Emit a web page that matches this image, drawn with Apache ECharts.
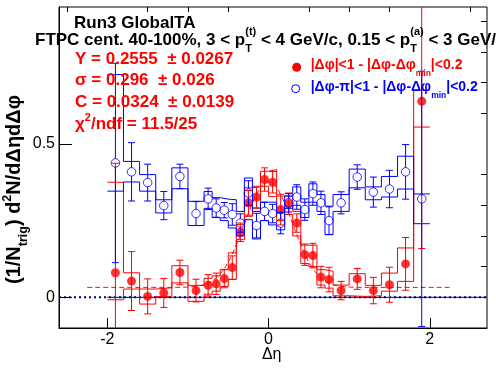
<!DOCTYPE html>
<html><head><meta charset="utf-8">
<script src="https://cdn.jsdelivr.net/npm/echarts@6/dist/echarts.min.js"></script>
<style>html,body{margin:0;padding:0;background:#fff}#c{width:496px;height:374px}</style>
</head><body><div id="c"></div>
<script>
// ---------------- data ----------------
const binEdges = [-2.0,-1.8,-1.6,-1.4,-1.2,-1.0,-0.8,-0.7,-0.6,-0.5,-0.4,-0.3,-0.2,-0.1,0.0,0.1,0.2,0.3,0.4,0.5,0.6,0.7,0.8,1.0,1.2,1.4,1.6,1.8,2.0];

// near side: |dphi|<1 - |dphi-dphi_min|<0.2  (red, filled)
const nearVals  = [0.080,0.053,0.003,0.014,0.081,0.022,0.039,0.044,0.061,0.097,0.212,0.308,0.327,0.384,0.375,0.286,0.305,0.242,0.139,0.136,0.066,0.058,0.022,0.060,0.022,0.041,0.109,0.639];
const nearErr   = [0.357,0.096,0.057,0.047,0.040,0.037,0.035,0.035,0.030,0.038,0.030,0.040,0.035,0.038,0.035,0.050,0.035,0.030,0.035,0.040,0.035,0.040,0.030,0.034,0.043,0.057,0.086,0.480];
const nearSysLo = [-0.008,0.027,-0.022,0.003,0.047,-0.013,0.010,0.020,0.035,0.058,0.188,0.264,0.290,0.362,0.329,0.250,0.270,0.200,0.110,0.100,0.040,0.030,0.005,0.003,0.005,0.020,0.052,0.555];
const nearSysHi = [0.375,0.080,0.027,0.031,0.103,0.039,0.062,0.070,0.090,0.145,0.237,0.357,0.360,0.411,0.416,0.330,0.330,0.280,0.170,0.170,0.090,0.085,0.040,0.077,0.039,0.079,0.161,0.675];

// away side: |dphi-pi|<1 - |dphi-dphi_min|<0.2  (blue, open)
const awayVals  = [0.438,0.409,0.374,0.299,0.394,0.273,0.321,0.291,0.284,0.270,0.242,0.340,0.234,0.280,0.273,0.242,0.308,0.327,0.286,0.338,0.308,0.250,0.308,0.392,0.343,0.353,0.409,0.321];
const awayErr   = [0.325,0.095,0.060,0.046,0.040,0.039,0.035,0.030,0.025,0.035,0.030,0.040,0.040,0.030,0.030,0.035,0.030,0.040,0.035,0.038,0.038,0.045,0.036,0.040,0.049,0.061,0.089,0.416];
const awaySysLo = [0.346,0.376,0.346,0.275,0.354,0.234,0.290,0.260,0.250,0.226,0.200,0.253,0.190,0.250,0.236,0.220,0.290,0.300,0.260,0.310,0.280,0.204,0.280,0.357,0.318,0.327,0.353,0.240];
const awaySysHi = [0.726,0.443,0.400,0.318,0.422,0.313,0.345,0.325,0.320,0.318,0.280,0.389,0.280,0.310,0.310,0.275,0.330,0.360,0.310,0.370,0.335,0.297,0.335,0.418,0.360,0.394,0.460,0.337];

// fit parameters (as printed on the chart)
const fitY = 0.2555, fitYErr = 0.0267;
const fitSigma = 0.296, fitSigmaErr = 0.026;
const fitC = 0.0324, fitCErr = 0.0139;
const fitChi2 = '11.5', fitNdf = '25';
const fitRange = [-2.25, 2.25];

// axes
const xRange = [-2.6, 2.71];
const yRange = [-0.1, 0.9463];
const xTickMajor = [-2, 0, 2];
const xTickMinor = [-2.5,-1.5,-1,-0.5,0.5,1,1.5,2.5];
const yTickMajor = [0, 0.5];
const yTickMinor = [-0.1,0.1,0.2,0.3,0.4,0.6,0.7,0.8,0.9];
const zeroSolidRange = [-2.0, 2.71];

// ---------------- helpers ----------------
const RED = '#ff0000', BLUE = '#0000ff', NAVY = '#000080';
const FONT = '"Liberation Sans", Arial, Helvetica, sans-serif';
const centers = binEdges.slice(0, -1).map((e, i) => (e + binEdges[i + 1]) / 2);

function stepLine(vals) {
  const d = [];
  vals.forEach((v, i) => { d.push([binEdges[i], v]); d.push([binEdges[i + 1], v]); });
  return d;
}
function fitFunc(x) {
  return fitC + fitY / (fitSigma * Math.sqrt(2 * Math.PI)) * Math.exp(-x * x / (2 * fitSigma * fitSigma));
}
const fitCurve = [];
for (let k = 0; k <= 450; k++) {
  const x = fitRange[0] + (fitRange[1] - fitRange[0]) * k / 450;
  fitCurve.push([x, fitFunc(x)]);
}

function errSeries(vals, errs, color, gap) {
  return {
    type: 'custom', clip: true, silent: true, z: 3,
    data: vals.map((v, i) => [centers[i], v, errs[i]]),
    renderItem: function (params, api) {
      const x = api.value(0), y = api.value(1), e = api.value(2);
      const c = api.coord([x, y]);
      const t = api.coord([x, y + e]);
      const b = api.coord([x, y - e]);
      const hw = 3.5;
      const st = { stroke: color, lineWidth: 1 };
      const ch = [];
      if (c[1] - gap > t[1]) ch.push({ type: 'line', shape: { x1: c[0], y1: t[1], x2: c[0], y2: c[1] - gap }, style: st });
      if (c[1] + gap < b[1]) ch.push({ type: 'line', shape: { x1: c[0], y1: c[1] + gap, x2: c[0], y2: b[1] }, style: st });
      ch.push({ type: 'line', shape: { x1: c[0] - hw, y1: t[1], x2: c[0] + hw, y2: t[1] }, style: st });
      ch.push({ type: 'line', shape: { x1: c[0] - hw, y1: b[1], x2: c[0] + hw, y2: b[1] }, style: st });
      return { type: 'group', children: ch };
    }
  };
}
function lineSeries(data, color, width, type, z) {
  return { type: 'line', data: data, symbol: 'none', silent: true, z: z || 2,
    lineStyle: { color: color, width: width, type: type || 'solid' }, animation: false };
}

// text layout
const mctx = document.createElement('canvas').getContext('2d');
function fontStr(size, bold) { return (bold ? 'bold ' : '') + size + 'px ' + FONT; }
function tw(t, size, bold) { mctx.font = fontStr(size, bold); return mctx.measureText(t).width; }
function textEl(t, x, baseline, size, bold, color) {
  return { type: 'text', x: x, y: baseline - 0.347 * size, silent: true, z: 100,
    style: { text: t, font: fontStr(size, bold), fill: color,
      align: 'left', verticalAlign: 'middle', textAlign: 'left', textVerticalAlign: 'middle' } };
}
function runs(x0, base, parts, o) {
  const els = []; let x = x0;
  for (const p of parts) {
    if (p.t !== undefined) { els.push(textEl(p.t, x, base, o.size, o.bold, o.color)); x += tw(p.t, o.size, o.bold); }
    else {
      let w = 0;
      if (p.sub) { els.push(textEl(p.sub, x, base + o.subDy, o.small, o.bold, o.color)); w = Math.max(w, tw(p.sub, o.small, o.bold)); }
      if (p.sup) { els.push(textEl(p.sup, x, base - o.supDy, o.small, o.bold, o.color)); w = Math.max(w, tw(p.sup, o.small, o.bold)); }
      x += w;
    }
  }
  return els;
}

const graphics = [];
graphics.push(...runs(74, 29, [{ t: 'Run3 GlobalTA' }], { size: 17, bold: true, color: '#000' }));
graphics.push(...runs(35, 46, [
  { t: 'FTPC cent. 40-100%, 3 < p' }, { sub: 'T', sup: '(t)' },
  { t: ' < 4 GeV/c, 0.15 < p' }, { sub: 'T', sup: '(a)' }, { t: ' < 3 GeV/c' }
], { size: 17, bold: true, color: '#000', small: 11, subDy: 7, supDy: 10 }));
const fitOpt = { size: 17, bold: true, color: RED, small: 11, subDy: 6, supDy: 8 };
graphics.push(...runs(75, 65, [{ t: 'Y = ' + fitY.toFixed(4) + '  ± ' + fitYErr.toFixed(4) }], fitOpt));
graphics.push(...runs(75, 86.7, [{ t: 'σ = ' + fitSigma.toFixed(3) + '  ± ' + fitSigmaErr.toFixed(3) }], fitOpt));
graphics.push(...runs(75, 108.3, [{ t: 'C = ' + fitC.toFixed(4) + '  ± ' + fitCErr.toFixed(4) }], fitOpt));
graphics.push(...runs(75, 130, [{ t: 'χ' }, { sup: '2' }, { t: '/ndf = ' + fitChi2 + '/' + fitNdf }], fitOpt));
// legend
graphics.push({ type: 'circle', shape: { cx: 296.7, cy: 67.3, r: 4.5 }, style: { fill: RED }, silent: true, z: 100 });
graphics.push({ type: 'circle', shape: { cx: 295.7, cy: 88.7, r: 4 }, style: { fill: 'none', stroke: BLUE, lineWidth: 1 }, silent: true, z: 100 });
graphics.push(...runs(310.7, 70, [{ t: '|Δφ|<1 - |Δφ-Δφ' }, { sub: 'min' }, { t: '|<0.2' }],
  { size: 14, bold: true, color: RED, small: 8.5, subDy: 6.6 }));
graphics.push(...runs(310.7, 91.7, [{ t: '|Δφ-π|<1 - |Δφ-Δφ' }, { sub: 'min' }, { t: '|<0.2' }],
  { size: 14, bold: true, color: BLUE, small: 8.5, subDy: 6.6 }));
// axis titles
const dEtaW = tw('Δη', 16, false);
graphics.push(...runs(271.7 - dEtaW / 2, 360, [{ t: 'Δη' }], { size: 16, bold: false, color: '#000' }));
graphics.push({ type: 'group', x: 21, y: 284, rotation: Math.PI / 2, silent: true, z: 100,
  children: runs(0, 0, [{ t: '(1/N' }, { sub: 'trig' }, { t: ') d' }, { sup: '2' }, { t: 'N/dΔηdΔφ' }],
    { size: 20, bold: true, color: '#000', small: 12.5, subDy: 7, supDy: 9 }) });

// ---------------- chart ----------------
const chart = echarts.init(document.getElementById('c'), null, { renderer: 'canvas' });
const axisCommonX = { type: 'value', min: xRange[0], max: xRange[1], splitLine: { show: false } };
const axisCommonY = { type: 'value', min: yRange[0], max: yRange[1], splitLine: { show: false } };
chart.setOption({
  animation: false,
  backgroundColor: '#fff',
  grid: { left: 59, right: 9, top: 7, bottom: 46, show: true, borderColor: '#000', borderWidth: 1 },
  xAxis: [
    Object.assign({}, axisCommonX, {
      axisLine: { onZero: false, lineStyle: { color: '#000', width: 1 } },
      axisTick: { inside: true, length: 10, customValues: xTickMajor, lineStyle: { color: '#000' } },
      axisLabel: { customValues: xTickMajor, margin: 4, fontSize: 16, fontFamily: FONT, color: '#000' }
    }),
    Object.assign({}, axisCommonX, {
      axisLine: { show: false, onZero: false },
      axisTick: { inside: true, length: 5, customValues: xTickMinor, lineStyle: { color: '#000' } },
      axisLabel: { show: false }
    })
  ],
  yAxis: [
    Object.assign({}, axisCommonY, {
      axisLine: { onZero: false, lineStyle: { color: '#000', width: 1 } },
      axisTick: { inside: true, length: 13, customValues: yTickMajor, lineStyle: { color: '#000' } },
      axisLabel: { customValues: yTickMajor, margin: 4, fontSize: 16, fontFamily: FONT, color: '#000' }
    }),
    Object.assign({}, axisCommonY, {
      axisLine: { show: false, onZero: false },
      axisTick: { inside: true, length: 6, customValues: yTickMinor, lineStyle: { color: '#000' } },
      axisLabel: { show: false }
    })
  ],
  series: [
    lineSeries([[xRange[0], 0], [xRange[1], 0]], NAVY, 2, [2, 3], 1),
    lineSeries([[zeroSolidRange[0], 0], [zeroSolidRange[1], 0]], NAVY, 1, 'solid', 1),
    lineSeries(fitCurve, RED, 1, [5, 3], 2),
    lineSeries(stepLine(nearSysHi), RED, 1, 'solid', 2),
    lineSeries(stepLine(nearSysLo), RED, 1, 'solid', 2),
    errSeries(nearVals, nearErr, RED, 0),
    { type: 'scatter', z: 4, silent: true, symbol: 'circle', symbolSize: 9,
      data: nearVals.map((v, i) => [centers[i], v]), itemStyle: { color: RED } },
    lineSeries(stepLine(awaySysHi), BLUE, 1, 'solid', 5),
    lineSeries(stepLine(awaySysLo), BLUE, 1, 'solid', 5),
    Object.assign(errSeries(awayVals, awayErr, BLUE, 4.2), { z: 6 }),
    { type: 'scatter', z: 7, silent: true, symbol: 'circle', symbolSize: 8.5,
      data: awayVals.map((v, i) => [centers[i], v]),
      itemStyle: { color: 'rgba(0,0,0,0)', borderColor: BLUE, borderWidth: 1 } }
  ],
  graphic: { elements: graphics }
});
</script></body></html>
